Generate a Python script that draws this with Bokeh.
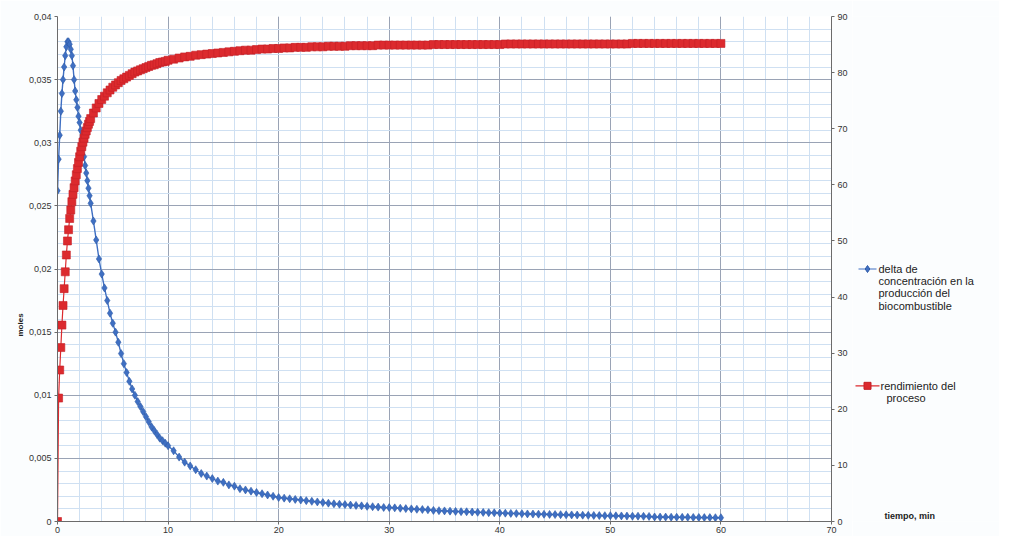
from bokeh.plotting import figure
from bokeh.layouts import row
from bokeh.models import Range1d, LinearAxis, FixedTicker, Title, ColumnDataSource
from bokeh.core.properties import value
from bokeh.embed import file_html
from bokeh.resources import INLINE

# ---- sample times (min) ----
t_early = [round(0.1 * i, 1) for i in range(31)]          # 0.0 .. 3.0
t_mid = [3.25 + 0.25 * i for i in range(28)]               # 3.25 .. 10.0
t_late = [10.5 + 0.5 * i for i in range(100)]              # 10.5 .. 60.0
tiempo = t_early + t_mid + t_late

# ---- delta de concentración (moles), left axis ----
delta_early = [0.0262, 0.0287, 0.0306, 0.0325, 0.0339, 0.0350, 0.0360, 0.0369, 0.0376, 0.0380,
               0.0380, 0.0378, 0.0374, 0.0369, 0.0361, 0.0350, 0.0341, 0.0334, 0.0328, 0.0321,
               0.0316, 0.0310, 0.0303, 0.0296, 0.0289, 0.0282, 0.0276, 0.0270, 0.0264, 0.0258,
               0.0252]
delta_mid = [0.0238, 0.0223, 0.0208, 0.0196, 0.0185, 0.0175, 0.0165, 0.0157, 0.0150, 0.0142,
             0.0133, 0.0125, 0.0118, 0.0111, 0.0105, 0.0100, 0.0095, 0.0091, 0.0087, 0.0083,
             0.0079, 0.0075, 0.0072, 0.0069, 0.0066, 0.0064, 0.0062, 0.0060]
delta_late = [0.0056, 0.0051, 0.0047, 0.0044, 0.0041, 0.0038, 0.0036, 0.0034, 0.0032, 0.0031,
              0.0029, 0.0028, 0.0026, 0.0025, 0.0024, 0.0023, 0.0022, 0.0021, 0.0020, 0.0019,
              0.00185, 0.0018, 0.00175, 0.0017, 0.00165, 0.0016, 0.00155, 0.0015, 0.00145, 0.0014,
              0.00137, 0.00134, 0.0013, 0.00127, 0.00124, 0.0012, 0.00117, 0.00114, 0.00111, 0.0011,
              0.00108, 0.00105, 0.00102, 0.00100, 0.00097, 0.00095, 0.00093, 0.00088, 0.00086, 0.00084,
              0.00082, 0.00080, 0.00078, 0.00077, 0.00075, 0.00073, 0.00072, 0.00070, 0.00069, 0.00067,
              0.00066, 0.00064, 0.00063, 0.00062, 0.00060, 0.00059, 0.00058, 0.00057, 0.00056, 0.00055,
              0.00054, 0.00053, 0.00052, 0.00051, 0.00050, 0.00049, 0.00048, 0.00047, 0.00046, 0.00046,
              0.00045, 0.00044, 0.00043, 0.00042, 0.00042, 0.00041, 0.00040, 0.00036, 0.00035, 0.00035,
              0.00034, 0.00034, 0.00033, 0.00033, 0.00032, 0.00032, 0.00031, 0.00031, 0.00030, 0.00030]
delta = delta_early + delta_mid + delta_late

# ---- rendimiento del proceso (%), right axis ----
rend_early = [0.0, 22.0, 27.0, 31.0, 35.0, 38.5, 41.5, 44.5, 47.5, 50.0,
              52.0, 54.0, 55.5, 57.0, 58.3, 59.5, 60.7, 61.8, 62.9, 64.0,
              65.0, 66.0, 66.8, 67.6, 68.3, 69.0, 69.6, 70.2, 70.8, 71.3,
              71.8]
rend_mid = [72.8, 73.7, 74.5, 75.2, 75.8, 76.4, 76.9, 77.4, 77.8, 78.2,
            78.6, 78.9, 79.2, 79.5, 79.8, 80.1, 80.3, 80.5, 80.7, 80.9,
            81.1, 81.3, 81.4, 81.6, 81.8, 81.9, 82.0, 82.2]
rend_late = [82.4, 82.6, 82.8, 82.9, 83.1, 83.2, 83.3, 83.4, 83.5, 83.6,
             83.7, 83.8, 83.9, 84.0, 84.0, 84.1, 84.2, 84.2, 84.3, 84.3,
             84.4, 84.4, 84.5, 84.5, 84.5, 84.6, 84.6, 84.6, 84.7, 84.7,
             84.7, 84.7, 84.8, 84.8, 84.8, 84.8, 84.8, 84.9, 84.9, 84.9,
             84.9, 84.9, 84.9, 84.9, 84.9, 84.9, 84.9, 85.0, 85.0, 85.0,
             85.0, 85.0, 85.0, 85.0, 85.0, 85.0, 85.0, 85.0, 85.0, 85.0,
             85.1, 85.1, 85.1, 85.1, 85.1, 85.1, 85.1, 85.1, 85.1, 85.1,
             85.1, 85.1, 85.1, 85.1, 85.1, 85.1, 85.1, 85.1, 85.1, 85.1,
             85.1, 85.1, 85.1, 85.2, 85.2, 85.2, 85.2, 85.2, 85.2, 85.2,
             85.2, 85.2, 85.2, 85.2, 85.2, 85.2, 85.2, 85.2, 85.2, 85.2]
rendimiento = rend_early + rend_mid + rend_late

x_ticks = [0, 10, 20, 30, 40, 50, 60, 70]
y_ticks = [0, 0.005, 0.01, 0.015, 0.02, 0.025, 0.03, 0.035, 0.04]
y_tick_labels = ["0", "0,005", "0,01", "0,015", "0,02", "0,025", "0,03", "0,035", "0,04"]
r_ticks = [0, 10, 20, 30, 40, 50, 60, 70, 80, 90]

legend_blue_lines = ["delta de", "concentración en la", "producción del", "biocombustible"]
legend_red_lines = ["rendimiento del", "proceso"]
x_title = "tiempo, min"
y_title = "moles"

FONT = "Liberation Sans"
BLUE = "#3f6fc2"
BLUE_DARK = "#2d5aa8"
RED = "#dc2a2e"
RED_DARK = "#c42026"
PAGE_BG = "#fbfdfe"

W_MAIN = 852
H = 536

p = figure(width=W_MAIN, height=H, output_backend="svg", toolbar_location=None,
           x_range=Range1d(0, 70), y_range=Range1d(0, 0.04),
           min_border_left=57, min_border_right=21, min_border_top=16, min_border_bottom=15)
p.extra_y_ranges = {"right": Range1d(0, 90)}
p.background_fill_color = "#ffffff"
p.border_fill_color = PAGE_BG
p.outline_line_color = None

# grids
p.xgrid.ticker = FixedTicker(ticks=x_ticks, minor_ticks=[v for v in range(0, 71, 2)])
p.ygrid.ticker = FixedTicker(ticks=y_ticks, minor_ticks=[i * 0.001 for i in range(41)])
for g in (p.xgrid, p.ygrid):
    g.grid_line_color = "#9aa3b5"
    g.grid_line_width = 1
    g.minor_grid_line_color = "#cfe0f2"
    g.minor_grid_line_width = 1

# axes
xa = p.xaxis[0]
xa.ticker = FixedTicker(ticks=x_ticks)
ya = p.yaxis[0]
ya.ticker = FixedTicker(ticks=y_ticks)
ya.major_label_overrides = {v: s for v, s in zip(y_ticks, y_tick_labels)}
ra = LinearAxis(y_range_name="right", ticker=FixedTicker(ticks=r_ticks))
p.add_layout(ra, "right")
for ax in (xa, ya, ra):
    ax.axis_line_color = "#6b6b6b"
    ax.major_tick_line_color = "#6b6b6b"
    ax.major_tick_out = 3
    ax.major_tick_in = 0
    ax.minor_tick_out = 0
    ax.minor_tick_in = 0
    ax.major_label_text_font = FONT
    ax.major_label_text_font_size = "9px"
    ax.major_label_text_color = "#333333"
    ax.major_label_standoff = 3
xa.major_label_standoff = 2

p.add_layout(Title(text=y_title, align="left", offset=185, standoff=2,
                   text_font=FONT, text_font_size="8px", text_font_style="bold",
                   text_color="#222222"), "left")

src = ColumnDataSource(dict(t=tiempo, d=delta, r=rendimiento))
p.line("t", "d", source=src, line_color=BLUE, line_width=1.4)
p.scatter("t", "d", source=src, marker="diamond", size=8,
          fill_color=BLUE, line_color=BLUE_DARK, line_width=0.6)
p.line("t", "r", source=src, y_range_name="right", line_color=RED, line_width=1.2)
p.scatter("t", "r", source=src, y_range_name="right", marker="square", size=8,
          fill_color=RED, line_color=RED_DARK, line_width=0.6)

# ---- side panel: legend + axis title (pixel coordinates, y from top) ----
W_SIDE = 999 - W_MAIN
q = figure(width=W_SIDE, height=H, output_backend="svg", toolbar_location=None,
           x_range=Range1d(W_MAIN, 999), y_range=Range1d(H, 0),
           x_axis_type=None, y_axis_type=None,
           min_border_left=0, min_border_right=0, min_border_top=0, min_border_bottom=0)
q.grid.visible = False
q.outline_line_color = None
q.background_fill_color = PAGE_BG
q.border_fill_color = PAGE_BG

blue_y0, red_y0, line_step = 268, 392, 13
q.line([858, 876], [blue_y0, blue_y0], line_color=BLUE, line_width=1)
q.scatter([867], [blue_y0], marker="diamond", size=7, fill_color=BLUE, line_color=BLUE_DARK)
q.text([878] * len(legend_blue_lines), [blue_y0 + i * line_step for i in range(len(legend_blue_lines))],
       text=legend_blue_lines, text_font=value(FONT), text_font_size=value("11px"),
       text_color="#222222", text_baseline="middle", text_align="left")

q.line([855, 879], [red_y0, red_y0], line_color=RED, line_width=1.2)
q.scatter([867], [red_y0], marker="square", size=7, fill_color=RED, line_color=RED_DARK)
q.text([880, 886], [red_y0, red_y0 + line_step],
       text=legend_red_lines, text_font=value(FONT), text_font_size=value("11px"),
       text_color="#222222", text_baseline="middle", text_align="left")

q.text([884], [530], text=[x_title], text_font=value(FONT), text_font_size=value("9px"),
       text_font_style="bold", text_color="#222222", text_baseline="middle", text_align="left")

layout = row(p, q, spacing=0)
open("out.html", "w").write(file_html(layout, INLINE))
